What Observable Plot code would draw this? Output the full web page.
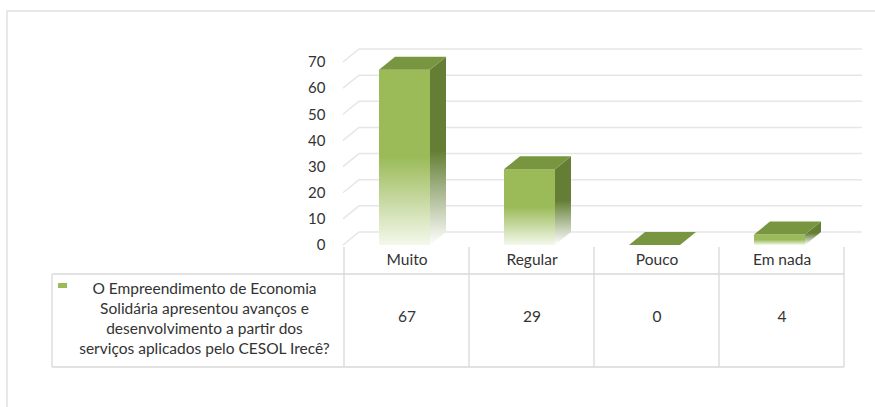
<!DOCTYPE html>
<html><head><meta charset="utf-8">
<script src="https://cdn.jsdelivr.net/npm/d3@7"></script>
<script src="https://cdn.jsdelivr.net/npm/@observablehq/plot@0.6"></script>
<style>html,body{margin:0;padding:0;background:#fff;overflow:hidden}</style>
</head><body><div id="chart"></div>
<script>
const categories = ["Muito", "Regular", "Pouco", "Em nada"];
const values = [67, 29, 0, 4];
const yTicks = [0, 10, 20, 30, 40, 50, 60, 70];
const seriesLabel = "O Empreendimento de Economia\nSolidária apresentou avanços e\ndesenvolvimento a partir dos\nserviços aplicados pelo CESOL Irecê?";
const data = categories.map((c, i) => ({category: c, value: values[i]}));

const DX = 16, DY = -13;           // 3D depth offset
const FONT = "Lato, 'Noto Sans', sans-serif";
const TEXT = "#333333";
const GRID = "#e6e6e6";
const TABLE = "#d9d9d9";

// outer chart-area border + back-wall gridlines
function wallAndGrid(index, {x, y}, values, {width, height, marginLeft, marginRight}) {
  const g = d3.create("svg:g");
  g.append("path").attr("d", `M7,${height}V11H${width}`)
    .attr("fill", "none").attr("stroke", "#e8e8e8").attr("stroke-width", 2);
  const right = width - marginRight + DX + 2;
  for (const v of yTicks) {
    const yy = y(v);
    g.append("path")
      .attr("d", `M${marginLeft},${yy}L${marginLeft + DX},${yy + DY}H${right}`)
      .attr("fill", "none").attr("stroke", GRID).attr("stroke-width", 1.5);
  }
  return g.node();
}

// 3D bars
function bars3d(index, {x, y}) {
  const bw = x.bandwidth();
  const g = d3.create("svg:g");
  const defs = g.append("defs");
  const grad = (id, stops) => {
    const lg = defs.append("linearGradient").attr("id", id)
      .attr("x1", 0).attr("y1", 0).attr("x2", 0).attr("y2", 1);
    for (const [o, c] of stops) lg.append("stop").attr("offset", o).attr("stop-color", c);
  };
  grad("gFront", [[0, "#9BBB59"], [0.5, "#9BBB59"], [1, "#F4F8EC"]]);
  grad("gSide", [[0, "#647F35"], [0.5, "#647F35"], [1, "#FFFFFF"]]);
  for (const d of data) {
    const x0 = x(d.category) + 35, x1 = x(d.category) + bw - 39;
    const yb = y(0), yt = y(d.value);
    if (yb - yt > 0.5) {
      g.append("path")
        .attr("d", `M${x1},${yt}L${x1 + DX},${yt + DY}L${x1 + DX},${yb + DY}L${x1},${yb}Z`)
        .attr("fill", "url(#gSide)");
      g.append("rect").attr("x", x0).attr("y", yt).attr("width", x1 - x0).attr("height", yb - yt)
        .attr("fill", "url(#gFront)");
    }
    g.append("path")
      .attr("d", `M${x0},${yt}L${x1},${yt}L${x1 + DX},${yt + DY}L${x0 + DX},${yt + DY}Z`)
      .attr("fill", "#789640");
  }
  return g.node();
}

// data table grid and legend swatch
function tableGrid(index, {x, y}, values, {width, marginLeft, marginRight}) {
  const g = d3.create("svg:g");
  const bw = x.bandwidth();
  const base = y(0);
  const top = base + 2, mid = base + 29, bottom = base + 122;
  const left = marginLeft - 291;
  const right = width - marginRight;
  const lines = [];
  for (const c of categories) lines.push(`M${x(c)},${top}V${bottom}`);
  lines.push(`M${x(categories[categories.length - 1]) + bw},${top}V${bottom}`);
  lines.push(`M${left},${mid}H${right}`, `M${left},${bottom}H${right}`, `M${left},${mid}V${bottom}`);
  g.append("path").attr("d", lines.join("")).attr("fill", "none")
    .attr("stroke", TABLE).attr("stroke-width", 1.3);
  g.append("rect").attr("x", left + 6).attr("y", mid + 9).attr("width", 9).attr("height", 5)
    .attr("fill", "#9BBB59");
  return g.node();
}

const chart = Plot.plot({
  width: 875,
  height: 407,
  marginTop: 62,
  marginBottom: 162,
  marginLeft: 343,
  marginRight: 31,
  style: {fontFamily: FONT, fontSize: "15px", color: TEXT, background: "#fff"},
  x: {type: "band", domain: categories, padding: 0, axis: null},
  y: {domain: [0, 70], ticks: yTicks, tickSize: 0, tickPadding: 18, label: null},
  marks: [
    wallAndGrid,
    bars3d,
    tableGrid,
    Plot.text(categories, {x: d => d, frameAnchor: "bottom", dy: 19, fill: TEXT, fontSize: 15.5}),
    Plot.text(data, {x: "category", text: d => String(d.value), frameAnchor: "bottom", dy: 76, fill: TEXT, fontSize: 15.5}),
    Plot.text([seriesLabel], {text: d => d, frameAnchor: "bottom-left", dx: -139, dy: 72,
      textAnchor: "middle", lineAnchor: "middle", lineHeight: 1.3, fill: TEXT, fontSize: 15.5})
  ]
});
document.getElementById("chart").appendChild(chart);
</script>
</body></html>
